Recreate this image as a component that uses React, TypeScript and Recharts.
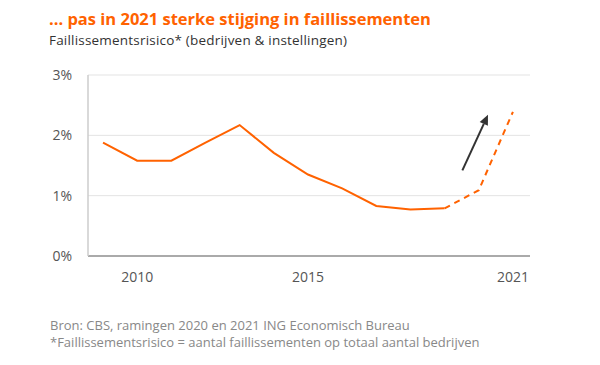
import React from "react";
import { LineChart, Line, XAxis, YAxis, CartesianGrid, ReferenceLine } from "recharts";

const years = [2009, 2010, 2011, 2012, 2013, 2014, 2015, 2016, 2017, 2018, 2019, 2020, 2021];
const riskValues = [1.88, 1.58, 1.58, 1.88, 2.17, 1.71, 1.35, 1.12, 0.83, 0.77, 0.79, 1.09, 2.39];
const lastActualYear = 2019;
const xTicks = [2010, 2015, 2021];
const yTicks = [0, 1, 2, 3];
const arrowStart = { x: 2019.52, y: 1.42 };
const arrowEnd = { x: 2020.27, y: 2.34 };

const data = years.map((year, i) => ({
  year,
  actual: year <= lastActualYear ? riskValues[i] : null,
  forecast: year >= lastActualYear ? riskValues[i] : null,
}));

const ORANGE = "#FF6200";
const FONT = "'Open Sans', 'Noto Sans', sans-serif";

const ArrowShape = (props: any) => {
  const { x1, y1, x2, y2 } = props;
  if ([x1, y1, x2, y2].some((v) => typeof v !== "number" || isNaN(v))) return null;
  const ang = Math.atan2(y2 - y1, x2 - x1);
  const len = 10;
  const w = 4.5;
  const bx = x2 - len * Math.cos(ang);
  const by = y2 - len * Math.sin(ang);
  const px = -Math.sin(ang) * w;
  const py = Math.cos(ang) * w;
  return (
    <g>
      <line x1={x1} y1={y1} x2={bx} y2={by} stroke="#333" strokeWidth={2} />
      <polygon points={`${x2},${y2} ${bx + px},${by + py} ${bx - px},${by - py}`} fill="#333" />
    </g>
  );
};

export default function App() {
  return (
    <div style={{ position: "absolute", left: 0, top: 0, width: 600, height: 365, background: "#fff", fontFamily: FONT }}>
      <div style={{ position: "absolute", left: 49, top: 10, fontSize: 16.5, lineHeight: "18px", fontWeight: 700, color: ORANGE, whiteSpace: "nowrap" }}>
        ... pas in 2021 sterke stijging in faillissementen
      </div>
      <div style={{ position: "absolute", left: 49, top: 31.5, fontSize: 13.5, lineHeight: "16px", color: "#333", whiteSpace: "nowrap", letterSpacing: 0.2 }}>
        Faillissementsrisico* (bedrijven &amp; instellingen)
      </div>
      <div style={{ position: "absolute", left: 0, top: 0 }}>
        <LineChart width={600} height={365} data={data} margin={{ top: 75, right: 70, bottom: 79, left: 0 }}>
          <CartesianGrid vertical={false} stroke="#e3e3e3" strokeWidth={1} />
          <XAxis
            dataKey="year"
            type="number"
            domain={[2008.56, 2021.5]}
            ticks={xTicks}
            allowDataOverflow
            height={30}
            tickLine={false}
            tickSize={0}
            tickMargin={16}
            axisLine={{ stroke: "#aaaaaa", strokeWidth: 2 }}
            tick={{ fill: "#555", fontSize: 14, fontFamily: FONT }}
          />
          <YAxis
            width={88}
            domain={[0, 3]}
            ticks={yTicks}
            tickFormatter={(v: number) => `${v}%`}
            tickLine={false}
            tickSize={0}
            tickMargin={16}
            axisLine={{ stroke: "#cccccc", strokeWidth: 1.5 }}
            tick={{ fill: "#555", fontSize: 14, fontFamily: FONT }}
          />
          <Line dataKey="actual" stroke={ORANGE} strokeWidth={2} dot={false} isAnimationActive={false} connectNulls={false} />
          <Line dataKey="forecast" stroke={ORANGE} strokeWidth={2} strokeDasharray="6 5" dot={false} isAnimationActive={false} connectNulls={false} />
          <ReferenceLine
            segment={[arrowStart, arrowEnd]}
            shape={ArrowShape}
            ifOverflow="visible"
          />
        </LineChart>
      </div>
      <div style={{ position: "absolute", left: 50, top: 316.5, fontSize: 13, color: "#888", whiteSpace: "nowrap", lineHeight: "17px" }}>
        Bron: CBS, ramingen 2020 en 2021 ING Economisch Bureau
        <br />
        *Faillissementsrisico = aantal faillissementen op totaal aantal bedrijven
      </div>
    </div>
  );
}
